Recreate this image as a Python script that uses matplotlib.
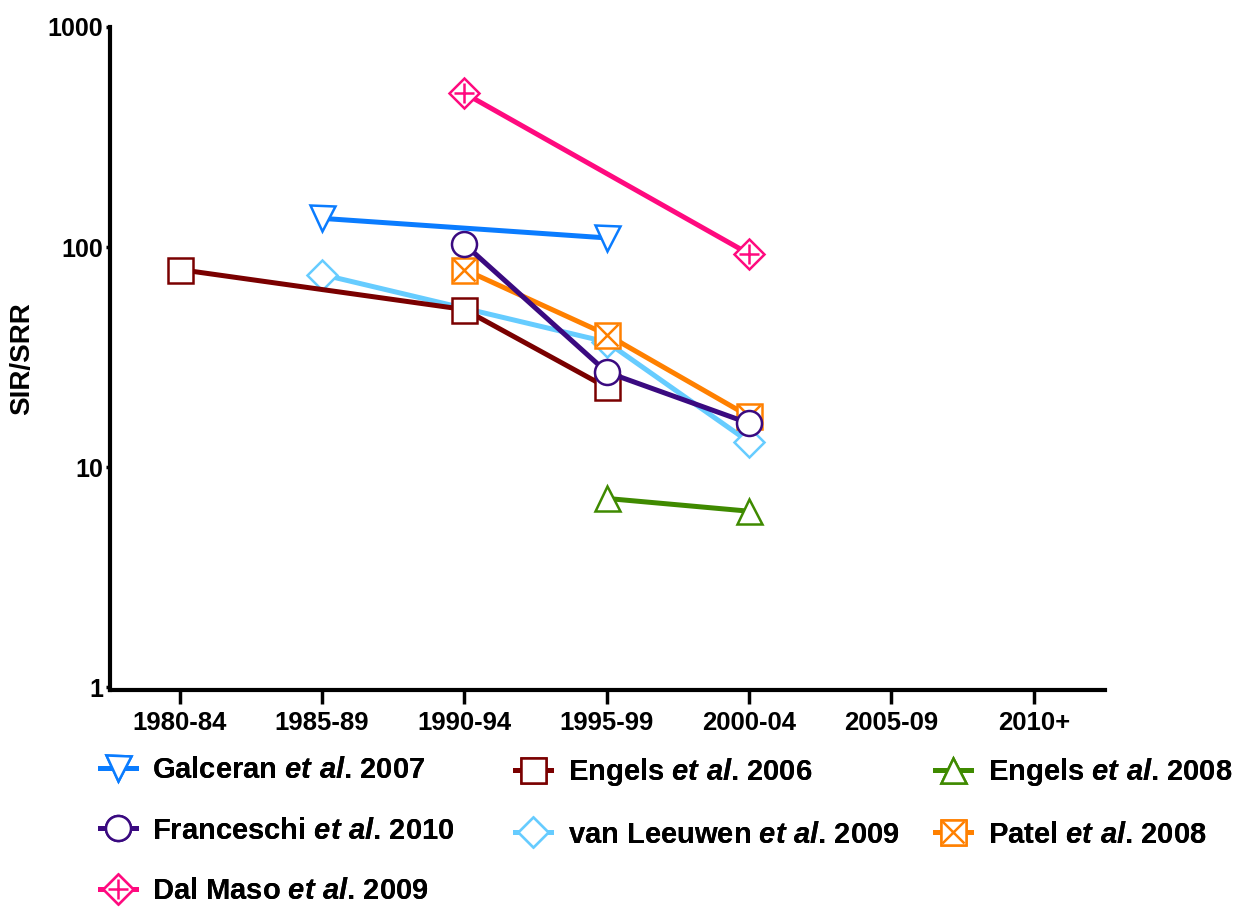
import numpy as np
import matplotlib.pyplot as plt

plt.rcParams["font.family"] = ["Liberation Sans", "DejaVu Sans"]
plt.rcParams["font.weight"] = "bold"
plt.rcParams["mathtext.fontset"] = "custom"
plt.rcParams["mathtext.it"] = "Liberation Sans:italic:bold"
plt.rcParams["mathtext.rm"] = "Liberation Sans:bold"

periods = ["1980-84", "1985-89", "1990-94", "1995-99", "2000-04", "2005-09", "2010+"]

galceran_x = [1, 3]
galceran_y = [135, 110]
engels06_x = [0, 2, 3]
engels06_y = [79, 52, 23]
engels08_x = [3, 4]
engels08_y = [7.2, 6.3]
franceschi_x = [2, 3, 4]
franceschi_y = [103, 27, 15.8]
leeuwen_x = [1, 3, 4]
leeuwen_y = [75, 37, 13]
patel_x = [2, 3, 4]
patel_y = [79, 40, 17]
dalmaso_x = [2, 4]
dalmaso_y = [500, 93]

fig = plt.figure(figsize=(12.42, 9.09), dpi=100)
ax = fig.add_axes([110 / 1242, 1 - 690 / 909, 995 / 1242, 663 / 909])

lw = 3.6
ms = 18
mew = 1.8


def series(x, y, color, marker, z=2, extra=None, size=ms):
    h = ax.plot(x, y, color=color, lw=lw, marker=marker, ms=size, mew=mew,
                mfc="white", mec=color, zorder=z, clip_on=False)[0]
    if extra is None:
        return h
    h2 = ax.plot(x, y, ls="none", marker=extra, ms=size * 0.9, mew=mew,
                 color=color, zorder=z + 0.5, clip_on=False)[0]
    return (h, h2)


h_leeuwen = series(leeuwen_x, leeuwen_y, "#66ccff", "D", z=2, size=ms * 0.85)
h_engels06 = series(engels06_x, engels06_y, "#7a0000", "s", z=3)
h_patel = series(patel_x, patel_y, "#ff8000", "s", z=4, extra="x")
h_franceschi = series(franceschi_x, franceschi_y, "#3a0a80", "o", z=5)
h_galceran = series(galceran_x, galceran_y, "#0a7cff", "v", z=6)
h_engels08 = series(engels08_x, engels08_y, "#3f8a00", "^", z=6)
h_dalmaso = series(dalmaso_x, dalmaso_y, "#ff0a7f", "D", z=6, extra="+", size=ms * 0.85)

ax.set_yscale("log")
ax.set_ylim(0.97, 1000)
ax.set_xlim(-0.49, 6.5)
ax.set_xticks(range(len(periods)))
ax.set_xticklabels(periods)
ax.set_yticks([1, 10, 100, 1000])
ax.set_yticklabels(["1", "10", "100", "1000"])
ax.yaxis.set_minor_locator(plt.NullLocator())
ax.tick_params(axis="x", length=10, width=2.5, labelsize=18.5, pad=5)
ax.tick_params(axis="y", length=3, width=2.5, labelsize=18, pad=2)
for s in ["top", "right"]:
    ax.spines[s].set_visible(False)
for s in ["left", "bottom"]:
    ax.spines[s].set_linewidth(3)
ax.set_ylabel("SIR/SRR", fontsize=20, fontweight="bold", labelpad=9)

et = r" $\it{et\ al}$. "
cols = [
    ([h_galceran, h_franceschi, h_dalmaso],
     ["Galceran" + et + "2007", "Franceschi" + et + "2010", "Dal Maso" + et + "2009"], 100),
    ([h_engels06, h_leeuwen],
     ["Engels" + et + "2006", "van Leeuwen" + et + "2009"], 515),
    ([h_engels08, h_patel],
     ["Engels" + et + "2008", "Patel" + et + "2008"], 935),
]
for handles, labels, xpx in cols:
    leg = fig.legend(handles, labels, loc="upper left",
                     bbox_to_anchor=(xpx / 1242, 1 - 756 / 909),
                     frameon=False, fontsize=21, handlelength=1.25,
                     handletextpad=0.55, labelspacing=1.12, borderpad=0,
                     borderaxespad=0)
    fig.add_artist(leg)

fig.savefig("out.png", dpi=100)
